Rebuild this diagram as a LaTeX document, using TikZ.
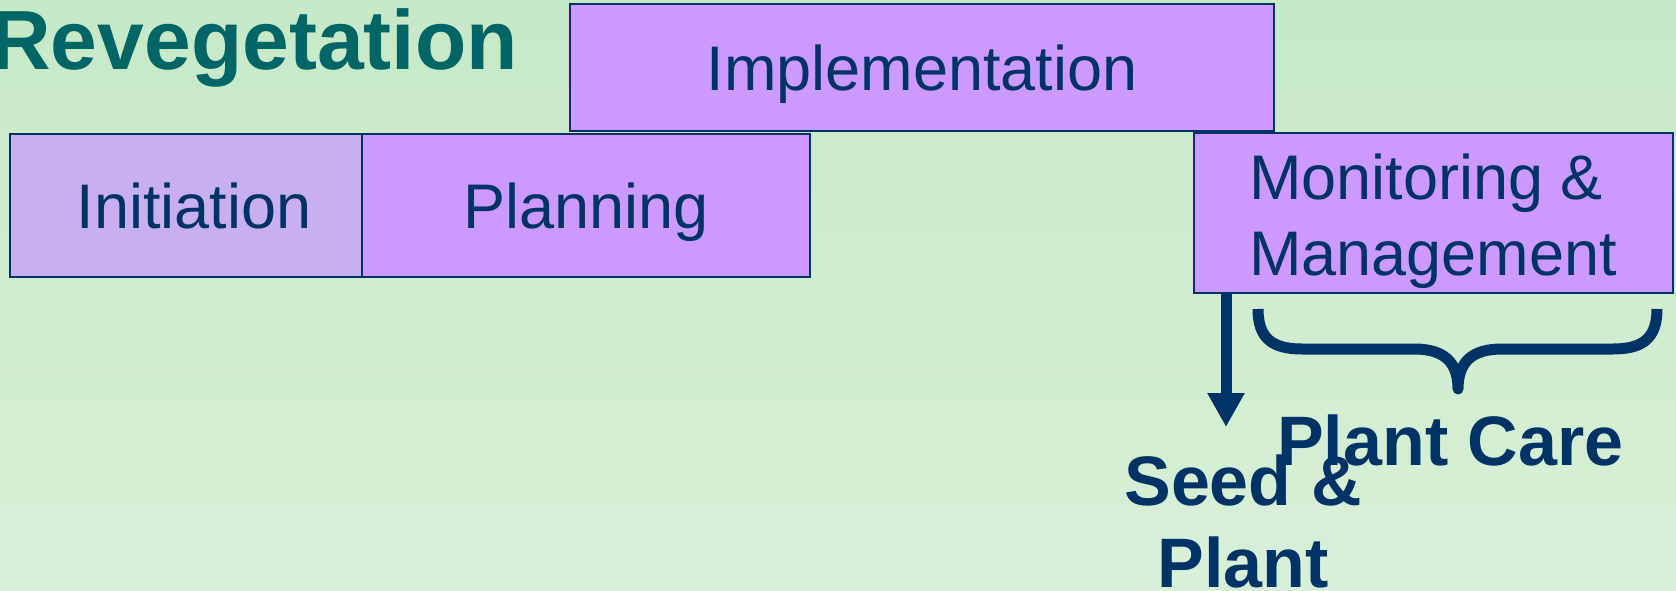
\documentclass[tikz,border=0pt]{standalone}
\usepackage{fontspec}
\setmainfont{Liberation Sans}
\usetikzlibrary{arrows.meta}
\definecolor{bgtop}{RGB}{199,233,199}
\definecolor{bgbot}{RGB}{216,240,216}
\definecolor{lilac}{RGB}{204,153,255}
\definecolor{lilacgray}{RGB}{200,176,240}
\definecolor{navy}{RGB}{0,51,102}
\definecolor{titleteal}{RGB}{0,102,102}
\begin{document}
\begin{tikzpicture}[x=1pt,y=-1pt,
  box/.style={draw=navy, line width=2pt, fill=lilac, text=navy, inner sep=0pt,
    font=\fontsize{63}{76}\selectfont, text depth=0pt},
  boxtext/.style={text=navy, inner sep=0pt, font=\fontsize{63}{76}\selectfont},
  boldlbl/.style={text=navy, inner sep=0pt, font=\bfseries\fontsize{70}{82}\selectfont},
  thick line/.style={draw=navy, line width=11pt}]
\shade[top color=bgtop, bottom color=bgbot] (0,0) rectangle (1676,591);
\useasboundingbox (0,0) rectangle (1676,591);

\node[anchor=base east, text=titleteal, inner sep=0pt,
  font=\bfseries\fontsize{84}{96}\selectfont] (title) at (518,70) {Revegetation};

\node[box, minimum width=704pt, minimum height=127pt] (impl) at (922,67.5) {Implementation};
\node[box, fill=lilacgray, minimum width=352pt, minimum height=143pt] (init) at (186,205.5) {\hspace*{16pt}Initiation};
\node[box, minimum width=448pt, minimum height=143pt] (plan) at (586,205.5) {Planning};
\node[box, minimum width=479pt, minimum height=159pt] (mon) at (1433.5,213) {};
\node[boxtext, anchor=base west] (mon1) at (1249,199) {Monitoring \&};
\node[boxtext, anchor=base west] (mon2) at (1249,275) {Management};

\coordinate (tip) at (1226,427);
\draw[thick line, -{Triangle[width=35pt,length=34pt]}] (tip |- mon.south) -- (tip);

\draw[thick line, line join=round, line cap=butt]
  (1258,309) .. controls (1258,338) and (1272,349) .. (1302,349)
  -- (1414,349) .. controls (1444,349) and (1458,362) .. (1458,389)
  .. controls (1458,362) and (1472,349) .. (1502,349)
  -- (1613,349) .. controls (1643,349) and (1657,338) .. (1657,309);

\node[boldlbl, anchor=base west] (care) at (1277,465) {Plant Care};
\node[boldlbl, anchor=base] (seed1) at (1243,505) {Seed \&};
\node[boldlbl, anchor=base] (seed2) at (1243,587) {Plant};
\end{tikzpicture}
\end{document}
